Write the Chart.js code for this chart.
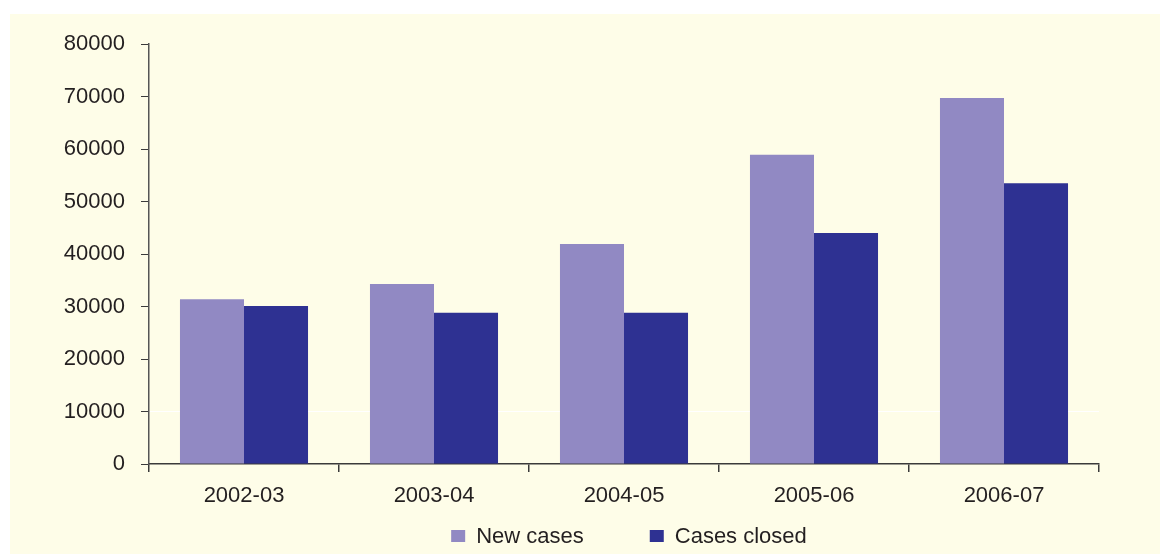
<!DOCTYPE html>
<html>
<head>
<meta charset="utf-8">
<script src="https://cdn.jsdelivr.net/npm/chart.js@4/dist/chart.umd.min.js"></script>
<style>
  html, body { margin: 0; padding: 0; background: #ffffff; }
  #wrap { position: relative; width: 1160px; height: 554px; }
</style>
</head>
<body>
<div id="wrap"><canvas id="c" width="1160" height="554"></canvas></div>
<script>
// Case workload by financial year
const years = ['2002-03', '2003-04', '2004-05', '2005-06', '2006-07'];
const newCases = [31400, 34300, 41900, 58900, 69700];
const casesClosed = [30100, 28800, 28800, 44000, 53500];
const seriesNames = ['New cases', 'Cases closed'];
const yTicks = [0, 10000, 20000, 30000, 40000, 50000, 60000, 70000, 80000];

const TEXT = '#231f20';
const FONT = { family: "'Liberation Sans', Arial, Helvetica, sans-serif", size: 22 };

// cream panel behind the plot
const panel = {
  id: 'panel',
  beforeDraw(chart) {
    const ctx = chart.ctx;
    ctx.save();
    ctx.fillStyle = '#fefde8';
    ctx.fillRect(10, 14, chart.width - 10, chart.height - 14);
    ctx.restore();
  }
};

// legend row centred under the plot
const legendRow = {
  id: 'legendRow',
  afterDraw(chart) {
    const ctx = chart.ctx;
    const area = chart.chartArea;
    ctx.save();
    ctx.font = FONT.size + 'px ' + FONT.family;
    ctx.textBaseline = 'middle';
    const box = 14, boxH = 12, textGap = 11, itemGap = 66;
    const items = chart.data.datasets.map(ds => ({
      label: ds.label, color: ds.backgroundColor, w: ctx.measureText(ds.label).width
    }));
    const total = items.reduce((s, it) => s + box + textGap + it.w, 0) + itemGap * (items.length - 1);
    let x = (area.left + area.right) / 2 + 5 - total / 2;
    const y = 537;
    items.forEach(it => {
      ctx.fillStyle = it.color;
      ctx.fillRect(x, y - boxH / 2 - 1, box, boxH);
      ctx.fillStyle = TEXT;
      ctx.fillText(it.label, x + box + textGap, y);
      x += box + textGap + it.w + itemGap;
    });
    ctx.restore();
  }
};

new Chart(document.getElementById('c'), {
  type: 'bar',
  data: {
    labels: years,
    datasets: [
      { label: seriesNames[0], data: newCases, backgroundColor: '#9189c3' },
      { label: seriesNames[1], data: casesClosed, backgroundColor: '#2e3192' }
    ]
  },
  options: {
    responsive: false,
    animation: false,
    events: [],
    layout: { padding: { left: 0, right: 61, top: 44, bottom: 0 } },
    datasets: { bar: { categoryPercentage: 0.674, barPercentage: 1.0, borderWidth: 0 } },
    plugins: { legend: { display: false }, tooltip: { enabled: false } },
    scales: {
      x: {
        afterFit(scale) { scale.height = 90; },
        border: { display: true, color: '#3a3a3a', width: 1.5 },
        grid: { offset: true, drawOnChartArea: false, drawTicks: true, tickLength: 8, tickColor: '#3a3a3a', lineWidth: 1.5 },
        ticks: { color: TEXT, font: FONT, padding: 11, maxRotation: 0 }
      },
      y: {
        min: 0,
        max: 80000,
        afterFit(scale) { scale.width = 149; },
        afterBuildTicks(scale) { scale.ticks = yTicks.map(v => ({ value: v })); },
        border: { display: true, color: '#555555', width: 1.5 },
        grid: {
          drawOnChartArea: true,
          drawTicks: true,
          tickLength: 8,
          tickColor: '#3a3a3a',
          lineWidth: 1,
          color: ctx => (ctx.tick && ctx.tick.value === 10000 ? '#ffffff' : 'rgba(0,0,0,0)')
        },
        ticks: { color: TEXT, font: FONT, padding: 16, callback: v => String(v) }
      }
    }
  },
  plugins: [panel, legendRow]
});
</script>
</body>
</html>
